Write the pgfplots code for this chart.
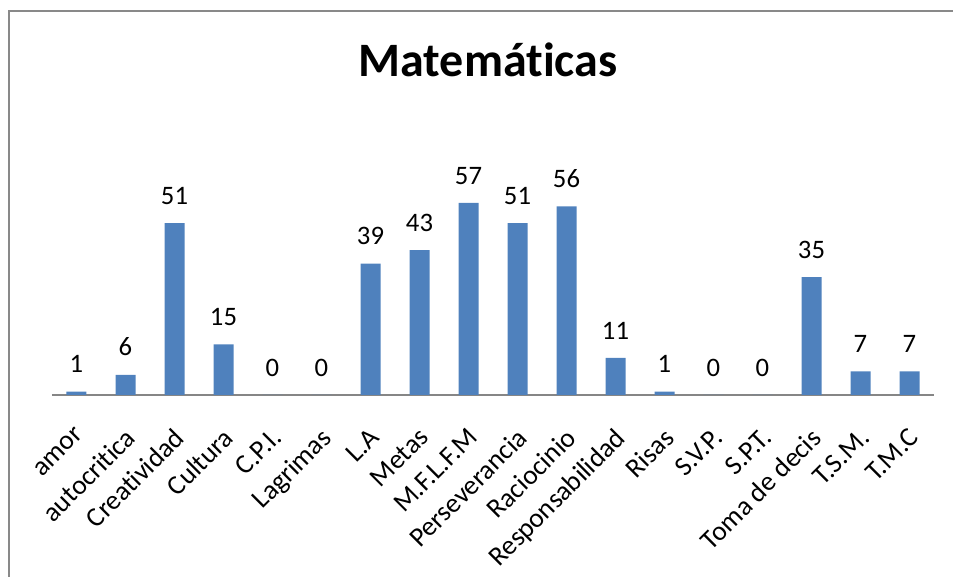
\documentclass[border=0pt]{standalone}
\usepackage{pgfplots}
\pgfplotsset{compat=1.18}
\usepackage{fontspec}
\setmainfont{Carlito}[Ligatures=NoCommon]
\definecolor{barblue}{HTML}{4F81BD}
\definecolor{framegray}{HTML}{898989}
\definecolor{axisgray}{HTML}{868686}
\begin{document}
\begin{tikzpicture}
  % page = 953x577 px at 0.75pt/px, axis origin at px (52,395)
  \useasboundingbox (-39pt,-136.5pt) rectangle (675.75pt,296.25pt);
  \draw[framegray, line width=1.4pt] (-32.5pt,-300pt) rectangle (900pt,288pt);
  \begin{axis}[
      scale only axis,
      width=661.5pt, height=151.6pt,
      ymin=0, ymax=60,
      xmin=-0.5, xmax=17.5,
      axis x line*=bottom,
      axis y line=none,
      x axis line style={axisgray, line width=1pt},
      ybar, bar width=15pt,
      xtick={0,...,17},
      major tick length=0pt,
      xticklabels={amor,autocritica,Creatividad,Cultura,C.P.I.,Lagrimas,L.A,Metas,M.F.L.F.M,Perseverancia,Raciocinio,Responsabilidad,Risas,S.V.P.,S.P.T.,Toma de decis,T.S.M.,T.M.C},
      xticklabel style={font=\fontsize{20.5}{24}\selectfont, xshift=-1.5pt, yshift=-22pt, rotate=45, anchor=north east, inner sep=1pt},
      /pgf/number format/assume math mode=true,
      nodes near coords,
      nodes near coords style={font=\fontsize{20}{24}\selectfont, black, yshift=10.5pt},
    ]
    \addplot[fill=barblue, draw=none] coordinates {
      (0,1) (1,6) (2,51) (3,15) (4,0) (5,0) (6,39) (7,43) (8,57)
      (9,51) (10,56) (11,11) (12,1) (13,0) (14,0) (15,35) (16,7) (17,7)
    };
  \end{axis}
  \node[font=\fontsize{36}{42}\selectfont\bfseries] at (327pt,251pt) {Matemáticas};
\end{tikzpicture}
\end{document}
